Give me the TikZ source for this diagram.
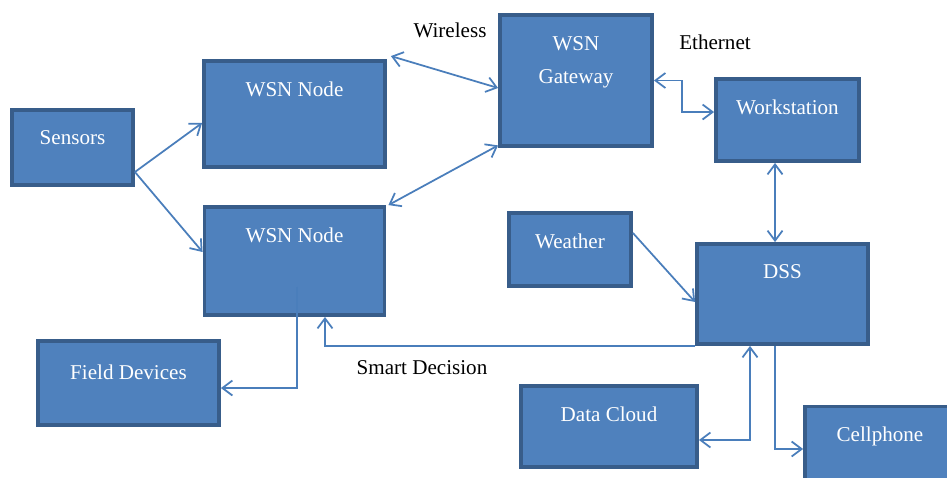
\documentclass[tikz,border=0pt]{standalone}
\usepackage{fontspec}
\setmainfont{Liberation Serif}
\usetikzlibrary{arrows.meta}
\definecolor{blkfill}{HTML}{4F81BD}
\definecolor{blkedge}{HTML}{385D8A}
\definecolor{linkc}{HTML}{4A7EBB}

\begin{document}
\begin{tikzpicture}[x=0.02cm,y=-0.02cm,
    font=\fontsize{12}{18.5}\selectfont,
    >={Straight Barb[length=2mm,width=3mm]},
    blk/.style={draw=blkedge,fill=blkfill,line width=2.2pt,inner sep=0pt},
    txt/.style={text=white,anchor=center,yshift=-0.6cm,align=center},
    link/.style={draw=linkc,line width=1pt}]
    \clip(0,0)rectangle(947,477);

    \node[blk,minimum width=2.42cm,minimum height=1.50cm,label={[txt]north:Sensors}](sensors)at(72.5,147.5){};
    \node[blk,minimum width=3.62cm,minimum height=2.12cm,label={[txt]north:WSN Node}](wsna)at(294.5,114){};
    \node[blk,minimum width=3.60cm,minimum height=2.16cm,label={[txt]north:WSN Node}](wsnb)at(294.5,261){};
    \node[blk,minimum width=3.04cm,minimum height=2.62cm,label={[txt,yshift=-0.38cm]north:WSN\\Gateway}](gateway)at(576,80.5){};
    \node[blk,minimum width=2.86cm,minimum height=1.64cm,label={[txt]north:Workstation}](work)at(787.5,120){};
    \node[blk,minimum width=2.44cm,minimum height=1.46cm,label={[txt]north:Weather}](weather)at(570,249.5){};
    \node[blk,minimum width=3.42cm,minimum height=2.00cm,label={[txt]north:DSS}](dss)at(782.5,294){};
    \node[blk,minimum width=3.62cm,minimum height=1.68cm,label={[txt,yshift=-0.06cm]north:Field Devices}](field)at(128.5,383){};
    \node[blk,minimum width=3.52cm,minimum height=1.62cm,label={[txt]north:Data Cloud}](cloud)at(609,426.5){};
    \node[blk,minimum width=3.66cm,minimum height=1.62cm,label={[txt,xshift=-0.33cm,yshift=-0.04cm]north:Cellphone}](cell)at(896.5,447){};

    \node(wireless)at(450,30){Wireless};
    \node(ethernet)at(715,42){Ethernet};
    \node(smart)at(422,368){Smart Decision};

    \draw[link,->]([yshift=-0.49cm]sensors.east)--([yshift=-0.18cm]wsna.west);
    \draw[link,->]([yshift=-0.49cm]sensors.east)--([yshift=0.18cm]wsnb.west);
    \draw[link,<->]([xshift=0.08cm,yshift=0.06cm]wsna.north east)--([yshift=-0.15cm]gateway.west);
    \draw[link,<->]([xshift=0.04cm]wsnb.north east)--([yshift=0.05cm]gateway.south west);
    \draw[link,<->](gateway.east)--++(28,0)|-([yshift=0.16cm]work.west);
    \draw[link,<->]([xshift=-0.25cm]work.south)--([xshift=-0.25cm]work.south|-dss.north);
    \draw[link,->]([yshift=0.33cm]weather.east)--([yshift=-0.16cm]dss.west);
    \draw[link,->](dss.south west)-|([xshift=0.61cm]wsnb.south);
    \draw[link,->]([xshift=0.05cm,yshift=0.6cm]wsnb.south)|-([yshift=-0.1cm]field.east);
    \draw[link,<->]([xshift=-0.65cm]dss.south)|-([yshift=-0.27cm]cloud.east);
    \draw[link,->]([xshift=-0.15cm]dss.south)|-([yshift=-0.04cm]cell.west);
\end{tikzpicture}
\end{document}
